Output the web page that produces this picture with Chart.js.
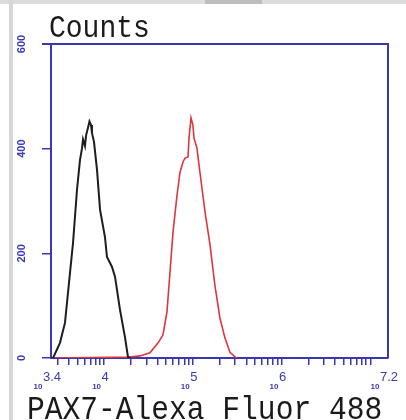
<!DOCTYPE html>
<html>
<head>
<meta charset="utf-8">
<script src="https://cdn.jsdelivr.net/npm/chart.js@4.4.1/dist/chart.umd.min.js"></script>
<style>
  html, body { margin: 0; padding: 0; background: #fff; }
  #wrap { position: relative; width: 406px; height: 420px; overflow: hidden; }
  #topBar { position: absolute; left: 0; top: 0; width: 406px; height: 4px; background: #dcdcdc; }
  #topTab { position: absolute; left: 205px; top: 0; width: 57px; height: 4px; background: #bdbdbd; }
  #leftBar { position: absolute; left: 9px; top: 0; width: 4px; height: 420px; background: #d6d6d6; }
  canvas { position: absolute; left: 0; top: 0; }
</style>
</head>
<body>
<div id="wrap">
  <canvas id="chart" width="406" height="420"></canvas>
  <div id="topBar"></div>
  <div id="topTab"></div>
  <div id="leftBar"></div>
</div>
<script>
// --- Data (fluorescence intensity, counts) ---
const controlX = [2512, 2650, 3170, 3610, 4110, 4450, 4930, 5330, 5620, 5770, 6070, 6240, 6560, 6820, 7100, 7280, 7670, 8300, 8980, 10200, 10750, 12250, 13250, 15070, 17140, 18540, 20000];
const controlY = [0, 0, 29, 67, 162, 220, 321, 378, 401, 418, 405, 425, 440, 452, 445, 430, 413, 359, 283, 231, 193, 174, 155, 92, 40, 2, 0];

const pax7X = [2512, 19500, 25400, 32800, 40500, 46000, 51000, 55200, 59700, 66200, 71600, 77500, 81500, 88100, 90400, 95300, 100000, 103000, 111000, 120000, 137000, 156000, 177000, 202000, 230000, 262000, 299000, 316000];
const pax7Y = [0, 2, 4, 10, 29, 44, 88, 164, 241, 311, 355, 375, 382, 384, 420, 459, 445, 420, 401, 355, 279, 216, 139, 76, 38, 11, 2, 0];

// axis range and labels
const xMinExp = 3.4;
const xMaxExp = 7.2;
const xLabelExps = ["3.4", "4", "5", "6", "7.2"];
const yTicks = [0, 200, 400, 600];

const AXIS_BLUE = "#3b36b4";
const LABEL_BLUE = "#3a3ab8";
const MONO = "'Liberation Mono', 'DejaVu Sans Mono', monospace";

function toPoints(xs, ys) {
    return xs.map((x, i) => ({ x: x, y: ys[i] }));
}

// minor log ticks 2..9 x 10^k plus decades
const logTicks = [];
for (let k = 3; k <= 7; k++) {
    for (let m = 1; m <= 9; m++) {
        const v = m * Math.pow(10, k);
        if (v >= Math.pow(10, xMinExp) && v <= Math.pow(10, xMaxExp)) logTicks.push(v);
    }
}

// mono text, stretched a little taller like the original
function drawTall(ctx, text, x, y, size, stretch) {
    ctx.save();
    ctx.translate(x, y);
    ctx.scale(1, stretch);
    ctx.font = size + "px " + MONO;
    ctx.textAlign = "left";
    ctx.fillText(text, 0, 0);
    ctx.restore();
}

const decorPlugin = {
    id: "decor",
    afterDraw(chart) {
        const ctx = chart.ctx;
        const area = chart.chartArea;
        const xs = chart.scales.x;
        const ys = chart.scales.y;
        ctx.save();

        // top and right frame
        ctx.strokeStyle = AXIS_BLUE;
        ctx.lineWidth = 2;
        ctx.beginPath();
        ctx.moveTo(42, area.top);
        ctx.lineTo(area.right, area.top);
        ctx.lineTo(area.right, area.bottom);
        ctx.stroke();

        // y labels, rotated
        ctx.fillStyle = LABEL_BLUE;
        ctx.font = "bold 11px 'Liberation Sans', Arial, sans-serif";
        ctx.textAlign = "center";
        ctx.textBaseline = "middle";
        yTicks.forEach(v => {
            const py = ys.getPixelForValue(v);
            ctx.save();
            ctx.translate(22, py);
            ctx.rotate(-Math.PI / 2);
            ctx.fillText(String(v), 0, 0);
            ctx.restore();
        });

        // x labels: small "10" with exponent
        ctx.textBaseline = "alphabetic";
        xLabelExps.forEach(e => {
            const px = xs.getPixelForValue(Math.pow(10, parseFloat(e))) - 4;
            ctx.font = "bold 8px 'Liberation Sans', Arial, sans-serif";
            const wBase = ctx.measureText("10").width;
            ctx.font = "13px 'Liberation Sans', Arial, sans-serif";
            const wExp = ctx.measureText(e).width;
            const left = px - (wBase + wExp) / 2;
            ctx.textAlign = "left";
            ctx.font = "bold 8px 'Liberation Sans', Arial, sans-serif";
            ctx.fillText("10", left, 389);
            ctx.font = "13px 'Liberation Sans', Arial, sans-serif";
            ctx.fillText(e, left + wBase + 0.5, 381);
        });

        // titles
        ctx.fillStyle = "#1a1a1a";
        drawTall(ctx, "Counts", 49, 37, 28, 1.15);
        drawTall(ctx, "PAX7-Alexa Fluor 488", 27, 419, 29.6, 1.12);

        ctx.restore();
    }
};

new Chart(document.getElementById("chart"), {
    type: "scatter",
    data: {
        datasets: [
            {
                label: "Control",
                data: toPoints(controlX, controlY),
                showLine: true,
                borderColor: "#1e1e1e",
                borderWidth: 2,
                pointRadius: 0,
                tension: 0
            },
            {
                label: "PAX7",
                data: toPoints(pax7X, pax7Y),
                showLine: true,
                borderColor: "#e0353d",
                borderWidth: 1.6,
                pointRadius: 0,
                tension: 0
            }
        ]
    },
    options: {
        responsive: false,
        animation: false,
        devicePixelRatio: 1,
        layout: { padding: { left: 0, top: 44, right: 18, bottom: 0 } },
        plugins: { legend: { display: false }, tooltip: { enabled: false } },
        scales: {
            x: {
                type: "logarithmic",
                min: Math.pow(10, xMinExp),
                max: Math.pow(10, xMaxExp),
                afterBuildTicks: s => { s.ticks = logTicks.map(v => ({ value: v })); },
                afterFit: s => { s.height = 62; },
                ticks: { display: false },
                grid: { drawOnChartArea: false, drawTicks: true, tickLength: 7, color: AXIS_BLUE, lineWidth: 1.5 },
                border: { color: AXIS_BLUE, width: 2 }
            },
            y: {
                min: 0,
                max: 600,
                afterBuildTicks: s => { s.ticks = yTicks.map(v => ({ value: v })); },
                afterFit: s => { s.width = 51; },
                ticks: { display: false },
                grid: { drawOnChartArea: false, drawTicks: true, tickLength: 9, color: AXIS_BLUE, lineWidth: 1.5 },
                border: { color: AXIS_BLUE, width: 2 }
            }
        }
    },
    plugins: [decorPlugin]
});
</script>
</body>
</html>
